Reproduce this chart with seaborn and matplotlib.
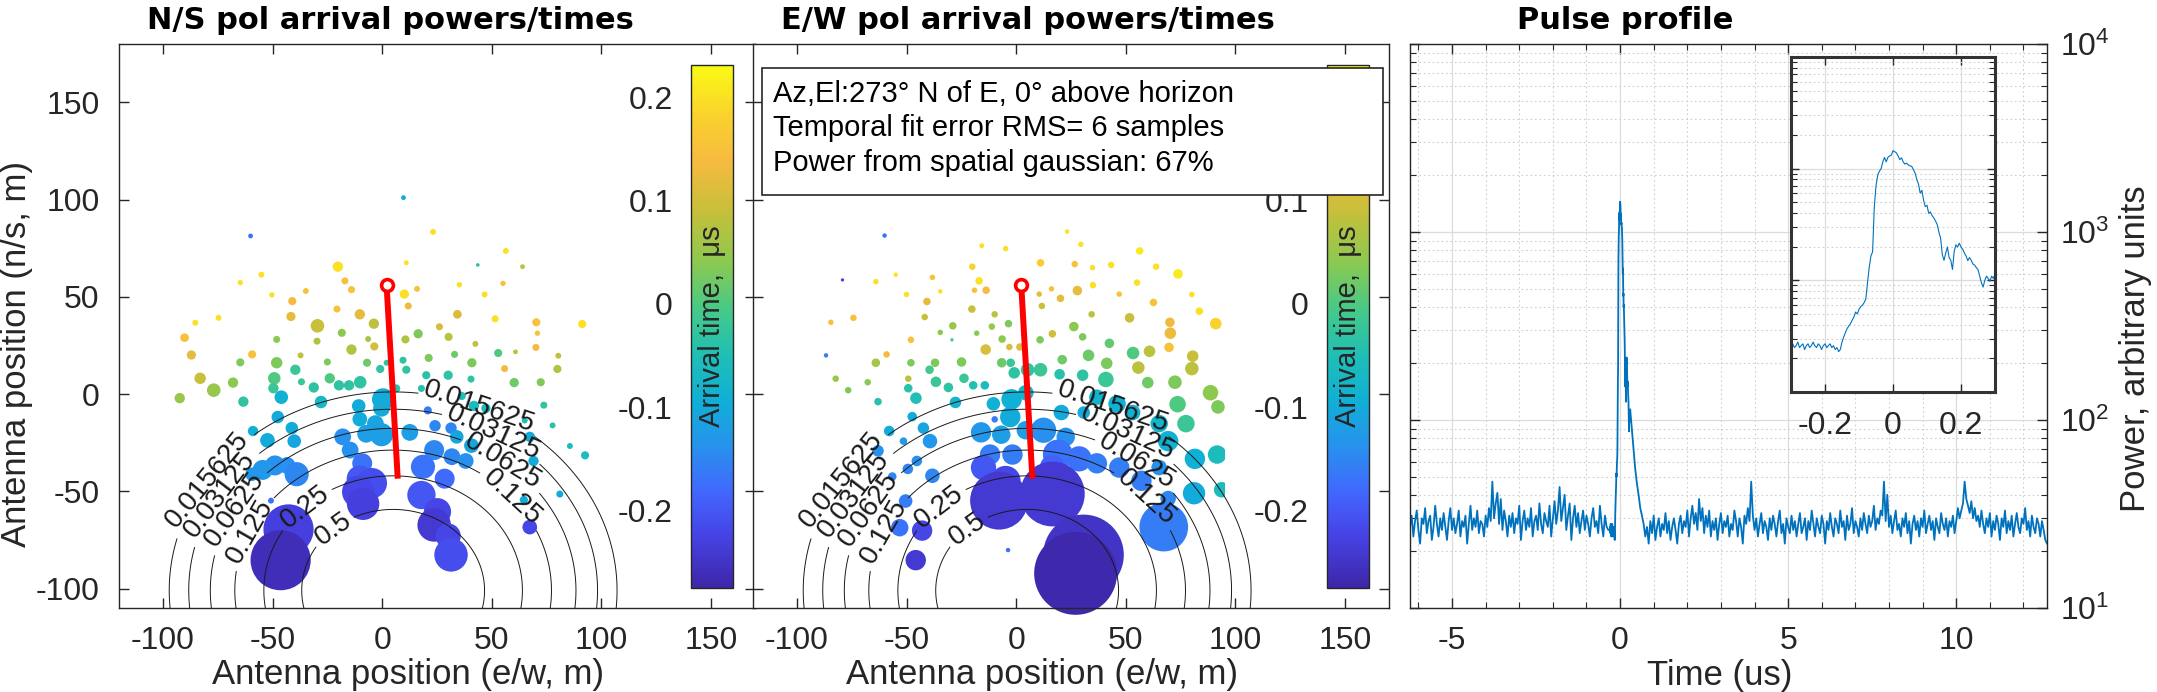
import numpy as np
import matplotlib
matplotlib.use("Agg")
import matplotlib.pyplot as plt
import seaborn as sns
from matplotlib.colors import LinearSegmentedColormap, Normalize
from matplotlib.patches import Rectangle
from matplotlib.cm import ScalarMappable
from matplotlib.ticker import MultipleLocator, LogLocator, NullFormatter

# ====================================================
# Data
# ====================================================
# N/S polarisation: antenna positions (m), relative power, arrival time (us)
ns_x = [
    9.7, -60.0, 23.2, 43.6, 56.4, 64.0, 11.0, -20.2, -55.1, -64.7,
    -17.0, -34.8, -14.0, -50.3, 10.1, 15.9, 11.9, 35.2, 55.1, 46.7,
    -41.0, -10.2, -41.6, -20.6, 51.5, 34.3, -85.2, -74.6, -29.5, -3.8,
    26.1, 70.3, 70.8, 91.2, -90.1, -18.4, 16.4, 30.3, -48.1, -29.7,
    -6.4, 10.6, 42.5, 70.1, -87.0, -59.3, -37.2, -14.0, -3.6, 21.2,
    33.0, 52.9, 60.8, 80.3, -64.7, -48.1, -25.0, -6.9, 2.0, 9.5,
    40.9, 79.9, 55.8, -39.6, -0.9, 11.0, -83.0, -49.2, -36.8, -23.9,
    -10.0, -15.1, -19.7, 20.1, 30.1, 40.5, 60.2, 72.3, -76.8, -68.0,
    -92.3, -49.6, -31.2, -63.3, -46.0, -27.9, 0.4, -0.3, 6.4, 17.9,
    36.3, 41.8, 47.3, 65.0, 73.7, 77.7, 85.6, 92.5, 81.0, 64.6,
    69.0, 67.3, 20.8, 24.1, 31.4, 34.0, 40.7, 23.7, 31.8, 38.1,
    18.6, 28.5, 17.9, 25.2, 23.7, 30.1, 31.4, 67.3, -10.7, -10.2,
    -3.1, -7.3, -0.3, 12.6, -18.0, -14.6, -9.1, -10.2, -4.7, -10.9,
    -8.7, -41.2, -47.6, -58.9, -52.3, -40.1, -48.9, -54.5, -59.3, -43.4,
    -39.0, -50.7, -42.7, -46.3]
ns_y = [
    101.0, 81.3, 83.4, 66.4, 73.6, 65.5, 67.5, 65.5, 61.4, 57.3,
    58.2, 53.0, 53.7, 51.0, 51.4, 54.1, 45.3, 56.2, 56.9, 51.2,
    47.8, 41.0, 39.9, 43.7, 38.7, 41.0, 36.7, 39.2, 35.1, 36.2,
    34.6, 36.9, 31.3, 36.0, 29.0, 31.5, 31.0, 29.4, 28.1, 27.2,
    28.3, 28.1, 25.8, 24.0, 20.1, 20.4, 19.9, 22.9, 24.5, 18.6,
    20.4, 21.1, 21.7, 19.7, 16.3, 16.1, 16.5, 16.1, 16.1, 17.4,
    16.1, 12.9, 13.1, 12.5, 12.9, 12.5, 8.1, 8.1, 6.3, 8.1,
    6.1, 4.5, 4.5, 9.7, 9.7, 7.7, 5.9, 6.1, 2.0, 5.9,
    -2.1, 3.0, 3.4, -3.9, -1.6, -4.1, -2.7, -7.3, 2.9, 2.9,
    -1.0, -6.1, -7.3, -13.6, -5.7, -16.1, -26.7, -31.5, -51.4, -54.4,
    -34.4, -22.0, -8.4, -16.3, -17.5, -22.0, -26.5, -28.8, -32.2, -34.4,
    -37.4, -43.5, -51.9, -60.5, -67.3, -73.0, -82.7, -68.4, -6.1, -12.9,
    -15.2, -20.4, -20.9, -19.7, -22.0, -28.8, -35.6, -43.5, -45.8, -50.3,
    -56.4, -17.5, -11.8, -19.0, -23.8, -24.2, -36.7, -39.0, -41.2, -36.7,
    -41.2, -54.8, -69.6, -85.4]
ns_power = [
    0.38, 0.38, 0.59, 0.21, 0.59, 0.38, 0.38, 1.91, 0.59, 0.48,
    0.85, 0.59, 0.85, 0.48, 1.51, 0.59, 0.85, 0.48, 0.48, 0.59,
    1.15, 1.91, 1.51, 0.85, 0.85, 1.32, 0.59, 0.59, 3.39, 1.91,
    0.85, 1.15, 0.48, 1.15, 1.32, 1.15, 1.51, 1.15, 0.85, 0.85,
    0.59, 1.15, 0.59, 0.85, 1.51, 1.15, 0.59, 1.91, 1.15, 1.15,
    0.85, 1.15, 0.38, 0.59, 1.15, 2.35, 0.85, 1.15, 0.59, 0.85,
    1.51, 1.15, 0.85, 1.91, 1.15, 1.15, 2.35, 2.85, 0.85, 1.91,
    2.85, 1.91, 1.91, 1.15, 1.51, 0.85, 1.51, 1.15, 3.39, 1.91,
    1.91, 1.91, 1.91, 1.91, 3.39, 2.85, 9.41, 5.29, 1.15, 0.85,
    1.15, 1.91, 1.51, 0.59, 0.85, 0.59, 0.59, 1.15, 0.85, 1.15,
    1.91, 1.91, 1.15, 2.35, 2.35, 3.39, 3.98, 7.62, 5.29, 4.61,
    11.4, 7.62, 15.9, 14.7, 22.6, 12.4, 22.6, 3.98, 3.39, 3.98,
    5.29, 6.02, 10.4, 5.29, 5.29, 5.29, 7.62, 13.6, 18.4, 21.2,
    21.2, 2.85, 2.85, 1.91, 3.98, 3.39, 7.62, 7.62, 3.39, 5.29,
    11.4, 0.59, 53.1, 77.8]
ns_time = [
    -0.10, -0.17, 0.20, -0.04, 0.20, 0.08, 0.20, 0.20, 0.20, 0.20,
    0.15, 0.15, 0.15, 0.20, 0.20, 0.15, 0.13, 0.20, 0.15, 0.20,
    0.14, 0.12, 0.12, 0.15, 0.20, 0.11, 0.20, 0.20, 0.09, 0.08,
    0.10, 0.15, 0.15, 0.20, 0.15, 0.04, 0.03, 0.08, 0.04, 0.07,
    0.06, 0.07, 0.08, 0.14, 0.12, 0.15, 0.08, 0.07, 0.10, 0.03,
    0.02, 0.00, 0.08, 0.08, 0.03, 0.03, 0.03, 0.02, -0.03, -0.03,
    0.03, 0.07, 0.14, -0.02, -0.03, -0.03, 0.09, 0.00, -0.02, 0.00,
    -0.03, -0.03, -0.03, -0.04, -0.03, -0.03, 0.02, 0.03, 0.05, 0.04,
    0.05, -0.02, -0.03, -0.03, -0.09, -0.07, -0.10, -0.10, -0.04, -0.04,
    -0.05, -0.06, -0.06, -0.05, -0.03, -0.04, -0.06, -0.06, -0.10, -0.10,
    -0.10, -0.10, -0.16, -0.15, -0.15, -0.11, -0.11, -0.15, -0.15, -0.14,
    -0.17, -0.18, -0.20, -0.22, -0.24, -0.22, -0.21, -0.22, -0.10, -0.10,
    -0.11, -0.12, -0.12, -0.12, -0.14, -0.14, -0.17, -0.20, -0.21, -0.22,
    -0.23, -0.10, -0.10, -0.09, -0.10, -0.11, -0.14, -0.13, -0.13, -0.14,
    -0.15, -0.17, -0.23, -0.26]

# E/W polarisation
ew_x = [
    -60.0, -79.2, 23.2, 29.5, -15.7, -4.8, 56.3, 63.8, 73.8, -20.0,
    11.1, 26.7, 34.8, 43.3, -64.0, -54.9, -38.2, -16.9, -19.0, -13.7,
    -50.0, -34.6, -40.7, 10.5, 20.2, 27.9, 16.1, 35.0, 55.1, 47.0,
    80.1, 83.5, 62.6, 11.7, -20.2, -9.8, -41.7, -74.2, -84.5, -3.5,
    -28.9, -34.6, -18.0, -11.1, 16.5, 26.3, 34.4, 51.7, 70.1, 70.3,
    91.0, -6.4, 1.7, 10.9, 30.3, 42.5, -48.0, -29.3, -13.9, -3.1,
    69.7, 60.8, 53.3, 80.5, 80.1, -59.1, -86.7, -64.0, -48.0, -37.0,
    -24.9, -6.6, 21.0, 33.0, 41.3, 55.7, -82.3, -67.7, -76.6, -49.2,
    -39.5, -36.6, -23.8, -30.9, -2.5, -0.9, 5.2, 11.1, 19.8, 30.3,
    40.9, 60.0, 72.4, 88.6, 92.0, 77.4, 73.6, -49.2, -63.0, -45.7,
    -27.7, -19.6, -14.3, -47.4, -57.9, -51.4, -39.3, -42.3, -63.0, -49.4,
    -38.2, -45.3, -56.5, -50.4, -53.1, -42.9, -45.8, -9.8, -10.4, -2.1,
    4.4, -2.7, -16.0, -6.8, 4.4, 12.5, 22.6, 20.6, 30.8, 36.8,
    46.0, 53.1, 65.2, 69.3, 81.5, 91.6, 93.7, 81.1, 65.2, 69.3,
    67.3, -11.9, -1.7, -14.9, -4.8, -7.8, 19.0, 28.7, 36.8, 47.0,
    57.1, 16.5, 16.5, 30.7, 27.1, -3.7]
ew_y = [
    81.5, 58.7, 83.6, 77.0, 76.3, 74.8, 73.6, 65.5, 61.8, 65.5,
    67.5, 66.8, 65.0, 66.4, 57.8, 61.4, 60.0, 58.2, 53.4, 53.4,
    51.2, 52.8, 47.6, 51.4, 49.2, 53.2, 54.1, 56.0, 57.3, 51.4,
    51.2, 42.6, 47.1, 45.3, 43.7, 41.0, 39.6, 39.2, 36.9, 36.2,
    35.1, 31.7, 31.3, 34.7, 31.0, 34.7, 41.0, 39.2, 36.9, 31.3,
    36.2, 28.3, 24.2, 27.9, 29.4, 26.1, 27.9, 27.9, 22.9, 24.2,
    24.0, 22.0, 21.1, 19.5, 13.1, 20.4, 19.9, 16.1, 16.1, 16.1,
    16.5, 16.1, 17.7, 19.9, 15.8, 13.6, 7.9, 6.1, 2.0, 7.9,
    12.5, 6.3, 8.1, 3.4, 16.1, 10.9, 12.5, 12.5, 10.2, 9.7,
    7.5, 5.9, 6.1, 0.7, -6.6, -15.2, -5.2, 3.0, -3.9, -2.1,
    -4.3, 4.5, 4.5, -11.6, -19.0, -24.2, -24.2, -17.5, -29.2, -38.5,
    -42.0, -34.4, -42.4, -55.0, -68.7, -70.2, -85.4, -13.0, -5.0, -2.7,
    0.7, -11.8, -19.7, -20.9, -18.6, -18.6, -22.0, -9.5, -9.5, -1.6,
    -5.0, -9.5, -15.2, -24.2, -33.3, -31.1, -49.2, -51.0, -37.8, -53.7,
    -68.4, -31.1, -31.1, -37.8, -44.6, -54.8, -31.1, -33.3, -35.6, -37.8,
    -44.6, -37.8, -51.4, -82.7, -92.2, -80.2]
ew_power = [
    0.32, 0.18, 0.32, 0.50, 0.40, 0.50, 0.98, 0.72, 1.61, 0.72,
    0.98, 0.72, 0.50, 0.72, 0.50, 0.32, 0.50, 0.98, 0.50, 0.98,
    0.50, 0.32, 0.98, 0.50, 0.98, 1.61, 0.50, 0.72, 0.72, 0.50,
    0.50, 0.98, 0.98, 0.72, 0.98, 0.72, 0.72, 0.72, 0.50, 0.98,
    0.98, 0.50, 0.50, 0.72, 0.98, 1.61, 0.72, 1.61, 1.61, 2.41,
    2.41, 0.98, 0.98, 0.98, 0.98, 1.61, 0.72, 0.18, 1.99, 0.72,
    1.61, 2.41, 2.87, 2.41, 3.37, 0.72, 0.32, 1.28, 0.98, 1.28,
    1.61, 1.61, 1.61, 2.41, 2.41, 2.87, 0.72, 0.72, 0.72, 0.72,
    1.28, 1.99, 1.61, 1.61, 1.28, 2.41, 3.37, 3.37, 1.99, 2.41,
    4.48, 2.41, 3.37, 4.48, 3.37, 5.76, 5.10, 1.28, 0.98, 2.41,
    2.41, 1.28, 1.28, 1.61, 1.99, 0.98, 3.91, 2.41, 2.41, 1.99,
    3.91, 1.99, 1.28, 3.37, 5.76, 7.97, 7.97, 0.72, 3.37, 7.97,
    4.48, 7.97, 7.97, 6.46, 6.46, 12.5, 6.46, 4.48, 2.87, 4.48,
    5.76, 4.48, 5.76, 7.97, 7.97, 6.46, 4.48, 9.65, 4.48, 4.48,
    49.8, 7.97, 7.97, 12.5, 17.9, 71.7, 17.9, 12.5, 7.97, 7.97,
    7.97, 12.5, 90.8, 144.0, 152.6, 0.32]
ew_time = [
    -0.17, -0.22, 0.20, 0.20, 0.20, 0.20, 0.21, 0.20, 0.21, 0.18,
    0.17, 0.15, 0.20, 0.20, 0.20, 0.20, 0.15, 0.20, 0.15, 0.14,
    0.20, 0.20, 0.12, 0.12, 0.12, 0.12, 0.15, 0.20, 0.20, 0.15,
    0.20, 0.20, 0.15, 0.09, 0.09, 0.08, 0.09, 0.15, 0.15, 0.03,
    0.05, 0.04, 0.04, 0.05, 0.10, 0.04, 0.08, 0.09, 0.13, 0.13,
    0.18, 0.04, 0.11, 0.03, 0.03, 0.01, 0.15, 0.00, 0.11, 0.11,
    0.15, 0.08, 0.00, 0.09, 0.08, 0.14, -0.16, 0.06, 0.03, 0.03,
    0.03, 0.02, 0.02, 0.02, 0.03, 0.08, 0.05, 0.04, 0.03, 0.08,
    -0.01, -0.02, -0.02, -0.03, -0.02, -0.03, -0.03, -0.02, -0.04, -0.03,
    -0.02, 0.02, 0.03, 0.04, 0.03, -0.02, 0.00, -0.04, -0.04, -0.05,
    -0.08, -0.05, -0.06, -0.10, -0.10, -0.13, -0.13, -0.11, -0.14, -0.15,
    -0.15, -0.14, -0.15, -0.16, -0.17, -0.22, -0.24, -0.16, -0.09, -0.09,
    -0.08, -0.10, -0.13, -0.12, -0.12, -0.14, -0.14, -0.10, -0.10, -0.08,
    -0.09, -0.09, -0.08, -0.09, -0.09, -0.06, -0.06, -0.10, -0.14, -0.15,
    -0.16, -0.16, -0.16, -0.20, -0.22, -0.24, -0.17, -0.17, -0.16, -0.16,
    -0.16, -0.19, -0.24, -0.25, -0.27, -0.17]

# fitted spatial gaussian (centre, width in m) and its contour levels
fit_cx, fit_cy, fit_sigma = 5.0, -101.0, 35.4
contour_levels = [0.015625, 0.03125, 0.0625, 0.125, 0.25, 0.5]

# arrival direction line (head, tail) per polarisation
ns_dir_x, ns_dir_y = [2.0, 7.1], [56.2, -43.5]
ew_dir_x, ew_dir_y = [2.3, 7.4], [56.2, -43.5]

info_lines = ["Az,El:273° N of E, 0° above horizon",
              "Temporal fit error RMS= 6 samples",
              "Power from spatial gaussian: 67%"]

# pulse profile power (arbitrary units); coarse samples every 0.05 us, fine every 0.005 us
pre_start, fine_start, post_start = -6.25, -0.30, 0.35
coarse_dt, fine_dt = 0.05, 0.005
pulse_pre = [
    27, 31, 24, 29, 33, 26, 22, 30, 28, 34,
    25, 29, 31, 23, 27, 35, 28, 24, 30, 26,
    32, 27, 23, 29, 34, 26, 30, 25, 28, 33,
    24, 29, 27, 31, 22, 28, 35, 26, 30, 27,
    33, 25, 29, 28, 24, 31, 27, 34, 29, 47,
    30, 36, 41, 28, 38, 26, 33, 29, 24, 31,
    27, 32, 25, 30, 28, 35, 23, 29, 33, 26,
    30, 27, 34, 24, 29, 31, 26, 36, 28, 25,
    32, 29, 27, 35, 24, 30, 37, 28, 33, 44,
    29, 34, 40, 26, 31, 36, 23, 30, 35, 27,
    32, 25, 29, 33, 26, 31, 28, 24, 30, 34,
    27, 29, 25, 35, 28, 24, 31, 27, 26]
pulse_fine = [
    26, 27, 25, 26, 28, 25, 26, 27, 24, 26, 27, 25, 26, 28, 26,
    25, 27, 26, 24, 26, 27, 25, 26, 27, 25, 26, 24, 25, 23,
    24, 28, 31, 34, 37, 39, 41, 44, 47, 52, 50, 55, 58, 60, 63, 68,
    95, 130, 165, 180, 457, 700, 873, 950, 1000, 1150, 1262, 1151, 1262, 1300, 1322,
    1449, 1420, 1384, 1300, 1205, 1250, 1150, 1099, 1120, 1080, 1060, 1049, 980, 915, 800, 726,
    603, 640, 520, 457, 470, 398, 410, 380, 363, 340, 316, 270, 239, 170, 151,
    175, 199, 160, 151, 125, 182, 208, 199, 215, 199, 190, 175, 165, 150, 160,
    151, 140, 137, 130, 125, 109, 95, 87, 100, 109, 104, 98, 109, 104, 114]
pulse_post = [
    90, 70, 55, 46, 40, 34, 31, 28, 24, 27,
    22, 29, 25, 31, 23, 27, 30, 24, 28, 26,
    32, 25, 29, 23, 27, 30, 26, 22, 28, 31,
    25, 29, 27, 33, 24, 30, 35, 28, 32, 26,
    38, 29, 34, 25, 31, 27, 33, 24, 29, 26,
    30, 23, 28, 32, 25, 29, 27, 31, 24, 28,
    26, 33, 29, 24, 30, 27, 22, 31, 28, 34,
    29, 47, 31, 26, 30, 24, 28, 32, 25, 29,
    27, 23, 30, 26, 31, 28, 24, 29, 33, 25,
    28, 22, 30, 27, 25, 31, 26, 29, 24, 28,
    32, 25, 27, 30, 23, 29, 26, 33, 28, 24,
    30, 27, 25, 31, 28, 22, 29, 26, 32, 27,
    24, 30, 28, 25, 33, 27, 29, 23, 31, 26,
    28, 34, 25, 29, 27, 24, 30, 26, 32, 28,
    25, 31, 27, 29, 35, 26, 30, 28, 33, 31,
    47, 29, 40, 27, 31, 25, 29, 33, 26, 28,
    24, 30, 27, 32, 25, 29, 22, 28, 31, 26,
    29, 24, 30, 27, 33, 25, 28, 31, 26, 29,
    23, 30, 27, 25, 32, 28, 26, 30, 24, 29,
    27, 31, 25, 29, 34, 30, 33, 36, 47, 38,
    35, 32, 37, 30, 34, 29, 31, 27, 33, 28,
    25, 30, 27, 32, 24, 29, 26, 31, 28, 23,
    30, 27, 33, 25, 29, 26, 31, 24, 28, 32,
    27, 25, 30, 28, 34, 26, 29, 24, 31, 27,
    25, 30, 28, 24, 29, 26, 23, 22]

# ====================================================
# Style
# ====================================================
sns.set_theme(style="white")
plt.rcParams['font.family'] = ['Liberation Sans', 'DejaVu Sans']
plt.rcParams['axes.unicode_minus'] = False
plt.rcParams['mathtext.fontset'] = 'custom'
plt.rcParams['mathtext.rm'] = 'Liberation Sans'
plt.rcParams['mathtext.default'] = 'regular'

INK = '#262626'
TICK_FS = 23
LABEL_FS = 25

# MATLAB parula, approximated by anchor colours
parula = LinearSegmentedColormap.from_list("parula", [
    (0.000, (0.2422, 0.1504, 0.6603)),
    (0.100, (0.2760, 0.2630, 0.9000)),
    (0.180, (0.2580, 0.4000, 0.9950)),
    (0.270, (0.1540, 0.5700, 0.9300)),
    (0.360, (0.0600, 0.6900, 0.8400)),
    (0.450, (0.1300, 0.7500, 0.7000)),
    (0.530, (0.2700, 0.7900, 0.5400)),
    (0.620, (0.5400, 0.7900, 0.3200)),
    (0.720, (0.7800, 0.7500, 0.2300)),
    (0.820, (0.9700, 0.7300, 0.2500)),
    (0.910, (0.9800, 0.8300, 0.1700)),
    (1.000, (0.9769, 0.9839, 0.0805)),
])
time_norm = Normalize(-0.275, 0.231)
SIZE_K, SIZE_EXP = 30.0, 0.95  # marker area (pt^2) = SIZE_K * power**SIZE_EXP

W, H = 2157, 692
fig = plt.figure(figsize=(W / 100, H / 100), dpi=100)


def box(l, t, r, b):
    return [l / W, 1 - b / H, (r - l) / W, (b - t) / H]


def style_frame(ax, lw=1.0, color=INK):
    for s in ax.spines.values():
        s.set_visible(True)
        s.set_color(color)
        s.set_linewidth(lw)


gx = np.linspace(-120, 170, 500)
gy = np.linspace(-140, 180, 500)
GX, GY = np.meshgrid(gx, gy)
gauss = np.exp(-((GX - fit_cx) ** 2 + (GY - fit_cy) ** 2) / (2 * fit_sigma ** 2))

label_spots = [(-79.6, -43.9), (-74.0, -51.6), (-67.2, -59.3), (-60.4, -70.5),
               (-35.2, -57.9), (-22.4, -69.5),
               (44.1, -6.7), (50.8, -19.8), (55.2, -34.4), (59.1, -53.1)]


def antenna_panel(rect, cax_rect, xs, ys, pw, ts, dir_x, dir_y, show_ylabels):
    ax = fig.add_axes(box(*rect))
    size_val = np.power(pw, SIZE_EXP)
    sns.scatterplot(x=xs, y=ys, hue=ts, size=size_val, palette=parula, hue_norm=time_norm,
                    sizes=(size_val.min() * SIZE_K, size_val.max() * SIZE_K),
                    size_norm=(size_val.min(), size_val.max()),
                    linewidth=0, legend=False, ax=ax, zorder=2)
    clip = Rectangle((-120, -140), 215, 320, transform=ax.transData)
    for coll in ax.collections:
        coll.set_clip_path(clip)

    cs = ax.contour(GX, GY, gauss, levels=contour_levels, colors='k',
                    linewidths=0.7, zorder=3)
    ax.clabel(cs, manual=label_spots, inline=True, inline_spacing=4,
              fontsize=20, fmt=lambda v: f"{v:g}")

    ax.plot(dir_x, dir_y, color='red', lw=4.3, solid_capstyle='butt', zorder=5)
    ax.plot(dir_x[:1], dir_y[:1], 'o', ms=8.5, mfc='white', mec='red', mew=2.6, zorder=6)

    ax.set_xlim(-120, 170)
    ax.set_ylim(-110, 180)
    ax.set_xticks([-100, -50, 0, 50, 100, 150])
    ax.set_yticks([-100, -50, 0, 50, 100, 150])
    ax.set_xlabel("")
    ax.set_ylabel("")
    ax.tick_params(direction='in', length=7, width=1, colors=INK, labelsize=TICK_FS,
                   top=True, right=True, left=True, bottom=True, labelleft=show_ylabels)
    ax.tick_params(axis='x', pad=13)
    ax.tick_params(axis='y', pad=14)
    style_frame(ax)

    cax = fig.add_axes(box(*cax_rect))
    cb = fig.colorbar(ScalarMappable(norm=time_norm, cmap=parula), cax=cax)
    cb.set_ticks([-0.2, -0.1, 0, 0.1, 0.2])
    cb.set_ticklabels(['-0.2', '-0.1', '0', '0.1', '0.2'])
    cax.yaxis.set_ticks_position('left')
    cax.tick_params(direction='in', length=5, width=1, colors=INK,
                    labelsize=TICK_FS, pad=13)
    cb.outline.set_edgecolor(INK)
    cb.outline.set_linewidth(1.0)
    cax.text(0.5, 0.5, "Arrival time,  μs", rotation=90, ha='center', va='center',
             fontsize=21, color=INK, transform=cax.transAxes)
    return ax


antenna_panel((119, 44, 755, 608), (691, 65, 733, 588),
              ns_x, ns_y, ns_power, ns_time, ns_dir_x, ns_dir_y, True)
antenna_panel((753, 44, 1389, 608), (1327, 65, 1369, 588),
              ew_x, ew_y, ew_power, ew_time, ew_dir_x, ew_dir_y, False)

# info box over the E/W panel
fig.patches.append(Rectangle((762 / W, 1 - 195 / H), 621 / W, 127 / H,
                             transform=fig.transFigure, facecolor='white',
                             edgecolor=INK, lw=1.2, zorder=10))
for i, line in enumerate(info_lines):
    fig.text(773 / W, 1 - (102 + 34.5 * i) / H, line, fontsize=21, color='black',
             va='baseline', ha='left', zorder=11)

# ====================================================
# Pulse profile
# ====================================================
t_pre = pre_start + coarse_dt * np.arange(len(pulse_pre))
t_fine = fine_start + fine_dt * np.arange(len(pulse_fine))
t_post = post_start + coarse_dt * np.arange(len(pulse_post))
t_all = np.concatenate([t_pre, t_fine, t_post])
p_all = np.concatenate([pulse_pre, pulse_fine, pulse_post])

blue = '#0072BD'
ax3 = fig.add_axes(box(1410, 44, 2047, 608))
ax3.set_yscale('log')
sns.lineplot(x=t_all, y=p_all, ax=ax3, color=blue, linewidth=1.3,
             estimator=None, sort=False)
ax3.set_xlim(-6.25, 12.7)
ax3.set_ylim(10, 1e4)
ax3.set_xticks([-5, 0, 5, 10])
ax3.xaxis.set_minor_locator(MultipleLocator(1))
ax3.set_yticks([10, 100, 1000, 10000])
ax3.set_yticklabels([r'$10^{1}$', r'$10^{2}$', r'$10^{3}$', r'$10^{4}$'])
ax3.yaxis.set_minor_locator(LogLocator(base=10, subs=np.arange(2, 10)))
ax3.yaxis.set_minor_formatter(NullFormatter())
ax3.grid(True, which='major', color='#dcdcdc', lw=0.9)
ax3.grid(True, which='minor', color='#cfcfcf', lw=0.8, ls=(0, (1.5, 2.5)))
ax3.set_xlabel("")
ax3.set_ylabel("")
ax3.tick_params(which='both', direction='in', colors=INK, labelsize=TICK_FS,
                top=True, right=True, left=True, bottom=True,
                labelleft=False, labelright=True)
ax3.tick_params(which='major', length=7, width=1)
ax3.tick_params(which='minor', length=4, width=0.8)
ax3.tick_params(axis='x', pad=13)
ax3.tick_params(axis='y', pad=9)
style_frame(ax3)

axin = fig.add_axes(box(1791, 57, 1995, 392))
axin.set_yscale('log')
sns.lineplot(x=t_fine, y=pulse_fine, ax=axin, color=blue, linewidth=0.8,
             estimator=None, sort=False)
axin.set_xlim(-0.3, 0.3)
axin.set_ylim(10, 1e4)
axin.set_xticks([-0.2, 0, 0.2])
axin.set_xticklabels(['-0.2', '0', '0.2'])
axin.yaxis.set_minor_locator(LogLocator(base=10, subs=np.arange(2, 10)))
axin.yaxis.set_minor_formatter(NullFormatter())
axin.grid(True, which='major', color='#dcdcdc', lw=0.9)
axin.grid(True, which='minor', axis='y', color='#cfcfcf', lw=0.8, ls=(0, (1.5, 2.5)))
axin.set_xlabel("")
axin.set_ylabel("")
axin.tick_params(which='both', direction='in', colors=INK, labelsize=TICK_FS,
                 top=True, right=True, left=True, bottom=True, labelleft=False)
axin.tick_params(which='major', length=6, width=1)
axin.tick_params(which='minor', length=4, width=0.8)
axin.tick_params(axis='x', pad=14)
style_frame(axin, lw=2.2, color='#333333')

# ====================================================
# Titles and axis labels (placed as in the reference)
# ====================================================
for cx, title in [(390, "N/S pol arrival powers/times"),
                  (1028, "E/W pol arrival powers/times"),
                  (1625, "Pulse profile")]:
    fig.text(cx / W, 1 - 29 / H, title, ha='center', va='baseline', fontsize=22,
             fontweight='bold', family=['DejaVu Sans'], color='black')

fig.text(408 / W, 1 - 684 / H, "Antenna position (e/w, m)", ha='center', va='baseline',
         fontsize=LABEL_FS, color=INK)
fig.text(1042 / W, 1 - 684 / H, "Antenna position (e/w, m)", ha='center', va='baseline',
         fontsize=LABEL_FS, color=INK)
fig.text(1720 / W, 1 - 685 / H, "Time (us)", ha='center', va='baseline',
         fontsize=LABEL_FS, color=INK)
fig.text(17 / W, 1 - 354 / H, "Antenna position (n/s, m)", rotation=90, ha='center',
         va='center', fontsize=LABEL_FS, color=INK)
fig.text(2135 / W, 1 - 349 / H, "Power, arbitrary units", rotation=90, ha='center',
         va='center', fontsize=LABEL_FS, color=INK)

fig.savefig("out.png", dpi=100)
plt.close(fig)
